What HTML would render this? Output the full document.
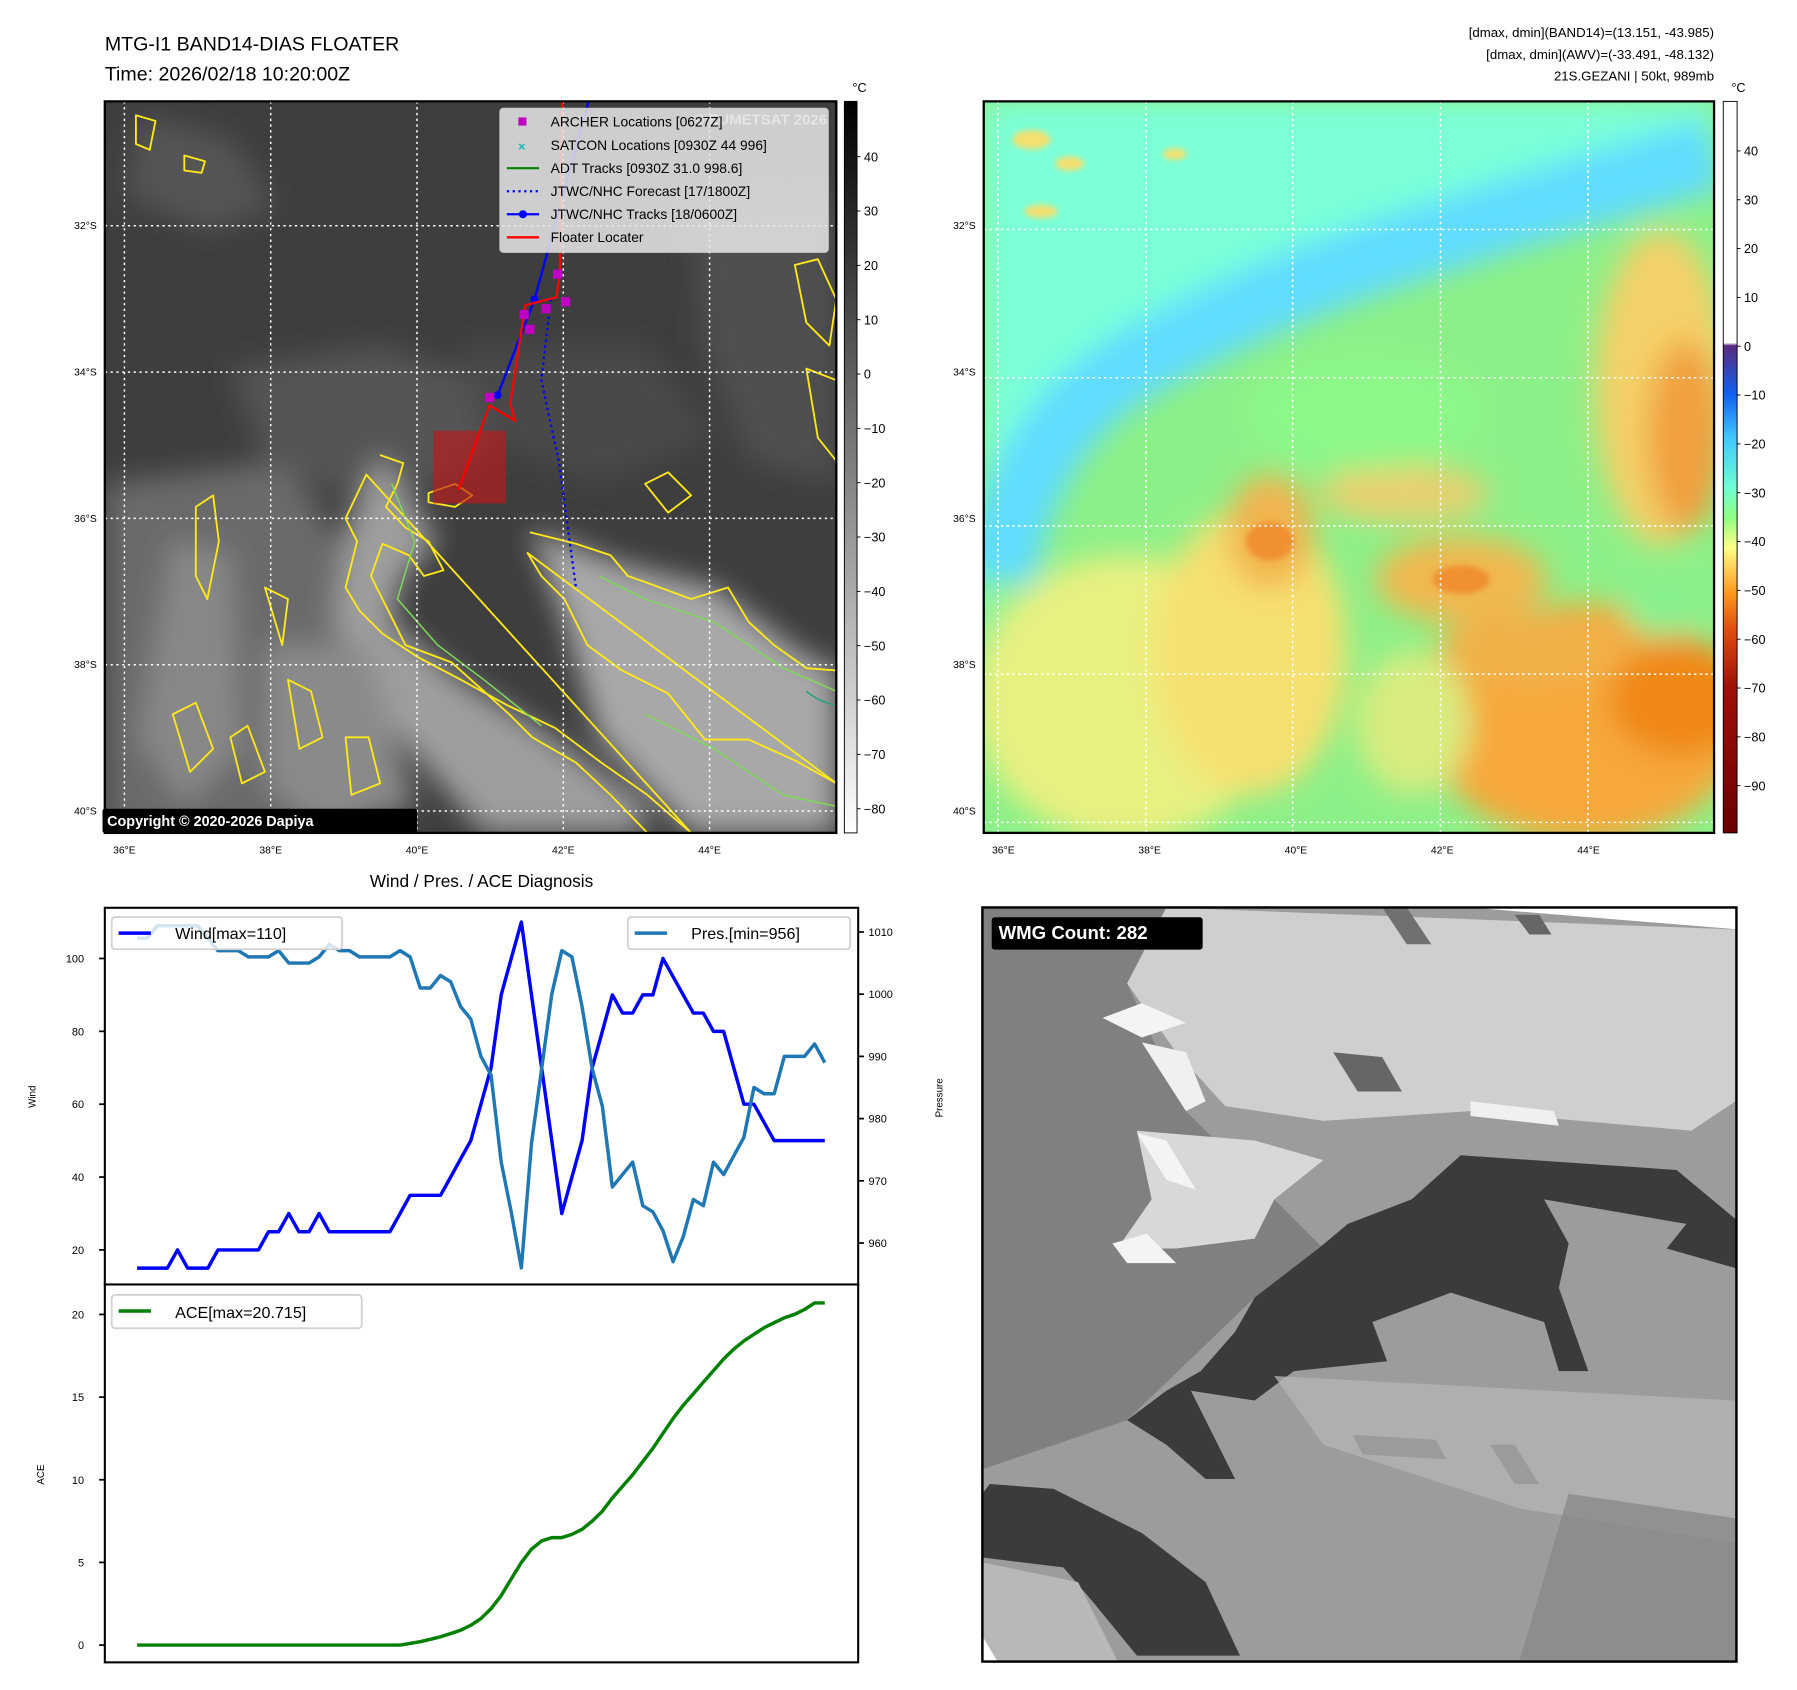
<!DOCTYPE html>
<html><head><meta charset="utf-8"><style>
html,body{margin:0;padding:0;background:#fff;}
svg{display:block;font-family:"Liberation Sans","DejaVu Sans",sans-serif;}
</style></head><body>
<svg id="root" width="1797" height="1690" viewBox="0 0 1560 1467" preserveAspectRatio="none" xmlns="http://www.w3.org/2000/svg">
<defs>
<filter id="b6" x="-50%" y="-50%" width="200%" height="200%"><feGaussianBlur stdDeviation="6"/></filter>
<filter id="b12" x="-50%" y="-50%" width="200%" height="200%"><feGaussianBlur stdDeviation="12"/></filter>
<filter id="b30" x="-50%" y="-50%" width="200%" height="200%"><feGaussianBlur stdDeviation="30"/></filter>
<clipPath id="cl"><rect x="91" y="88" width="635" height="635"/></clipPath>
<clipPath id="cr"><rect x="0" y="0" width="1530" height="1530"/></clipPath>
<linearGradient id="cbl" x1="0" y1="0" x2="0" y2="1"><stop offset="0" stop-color="#000"/><stop offset="1" stop-color="#fff"/></linearGradient>
<linearGradient id="cbr" x1="0" y1="0" x2="0" y2="1">
<stop offset="0" stop-color="#fff"/><stop offset="0.33" stop-color="#fff"/>
<stop offset="0.334" stop-color="#5a2a80"/><stop offset="0.40" stop-color="#1060f0"/>
<stop offset="0.46" stop-color="#40c8ff"/><stop offset="0.53" stop-color="#70ffd0"/>
<stop offset="0.57" stop-color="#90ff80"/><stop offset="0.61" stop-color="#ffff88"/>
<stop offset="0.67" stop-color="#ff9a20"/><stop offset="0.72" stop-color="#e05010"/>
<stop offset="0.80" stop-color="#a01008"/><stop offset="1" stop-color="#6a0000"/></linearGradient>
</defs>

<!-- titles -->
<text x="91" y="44" font-size="17">MTG-I1 BAND14-DIAS FLOATER</text>
<text x="91" y="70" font-size="17">Time: 2026/02/18 10:20:00Z</text>
<g font-size="11.5" text-anchor="end">
<text x="1488" y="32">[dmax, dmin](BAND14)=(13.151, -43.985)</text>
<text x="1488" y="51">[dmax, dmin](AWV)=(-33.491, -48.132)</text>
<text x="1488" y="70">21S.GEZANI | 50kt, 989mb</text>
</g>

<!-- LEFT MAP -->
<g clip-path="url(#cl)">
<rect x="91" y="88" width="635" height="635" fill="#3e3e3e"/>
<g filter="url(#b12)">
<polygon points="91,420 250,400 300,480 300,723 91,723" fill="#6a6a6a"/>
<polygon points="200,320 330,300 420,330 440,380 380,420 300,430 230,400" fill="#555"/>
<polygon points="600,180 726,170 726,420 650,400 610,300" fill="#4f4f4f"/>
<polygon points="330,395 380,470 350,500 340,540 400,590 480,640 560,700 560,723 420,723 330,620 290,540 300,460" fill="#9e9e9e"/>
<polygon points="460,460 540,490 620,510 700,570 726,580 726,723 600,723 520,640 490,540" fill="#a8a8a8"/>
<polygon points="150,470 200,480 210,650 160,700 120,640" fill="#888"/>
<polygon points="230,560 320,560 360,700 280,723 230,680" fill="#8a8a8a"/>
<polygon points="120,100 200,120 240,180 180,200 110,170" fill="#555"/>
<polygon points="400,300 560,300 620,380 520,420 420,380" fill="#4a4a4a"/>
</g>
<g fill="none" stroke="#ffe81a" stroke-width="1.6" stroke-linejoin="round">
<path d="M330,395 L350,402 L345,420 L335,440 L352,458 L372,470 L385,495 L368,500 L355,482 L332,472 L322,500 L342,540 L352,560 L392,575 L420,600 L442,620 L462,640 L500,662 L530,690 L562,723"/>
<path d="M600,723 L562,690 L522,662 L482,632 L440,612 L400,590 L362,570 L332,550 L312,530 L300,510 L310,470 L300,450 L318,412 Z"/>
<path d="M460,462 L500,472 L530,482 L545,500 L562,506 L600,520 L632,510 L650,540 L672,560 L700,580 L726,582 M726,680 L690,660 L650,642 L612,642 L580,602 L540,582 L510,560 L490,520 L470,500 L458,480 Z"/>
<path d="M372,428 L395,420 L410,430 L395,440 L372,436 Z"/>
<path d="M170,440 L185,430 L190,470 L180,520 L170,500 Z"/>
<path d="M118,100 L135,105 L130,130 L118,125 Z"/>
<path d="M160,135 L178,140 L175,150 L160,148 Z"/>
<path d="M690,230 L710,225 L726,260 L720,300 L700,280 Z"/>
<path d="M700,320 L726,330 L726,400 L710,380 Z"/>
<path d="M560,420 L580,410 L600,430 L580,445 Z"/>
<path d="M150,620 L170,610 L185,650 L165,670 Z"/>
<path d="M250,590 L270,600 L280,640 L260,650 Z"/>
<path d="M200,640 L215,630 L230,670 L210,680 Z"/>
<path d="M300,640 L320,640 L330,680 L305,690 Z"/>
<path d="M230,510 L250,520 L245,560 Z"/>
</g>
<g fill="none" stroke="#7ed957" stroke-width="1.3">
<path d="M340,420 L360,470 L345,520 L380,560 L420,590 L470,630"/>
<path d="M520,500 L560,520 L620,540 L680,580 L726,600"/>
<path d="M560,620 L620,650 L680,690 L726,700"/>
<path d="M700,600 Q712,610 726,612" stroke="#20a080"/>
</g>
<rect x="376" y="374" width="63" height="63" fill="#c01818" opacity="0.65"/>
<g stroke="#fff" stroke-width="1.3" stroke-dasharray="2,3">
<line x1="108" y1="88" x2="108" y2="723"/><line x1="235" y1="88" x2="235" y2="723"/><line x1="362" y1="88" x2="362" y2="723"/><line x1="489" y1="88" x2="489" y2="723"/><line x1="616" y1="88" x2="616" y2="723"/>
<line x1="91" y1="196" x2="726" y2="196"/><line x1="91" y1="323" x2="726" y2="323"/><line x1="91" y1="450" x2="726" y2="450"/><line x1="91" y1="577" x2="726" y2="577"/><line x1="91" y1="704" x2="726" y2="704"/>
</g>
<polyline points="478,260 470,330 485,400 500,510" fill="none" stroke="#0000ff" stroke-width="2" stroke-dasharray="2,3"/>
<polyline points="511,88 464,260 432,343" fill="none" stroke="#0000ff" stroke-width="2"/>
<circle cx="464" cy="260" r="3.5" fill="#0000ff"/><circle cx="432" cy="343" r="3.5" fill="#0000ff"/>
<polyline points="488,88 486,238 483,258 456,265 443,350 447,365 425,352 398,425" fill="none" stroke="#ff0000" stroke-width="2"/>
<g fill="#c000c0">
<rect x="421" y="341" width="8" height="8"/><rect x="451" y="269" width="8" height="8"/><rect x="456" y="282" width="8" height="8"/><rect x="470" y="264" width="8" height="8"/><rect x="487" y="258" width="8" height="8"/><rect x="480" y="234" width="8" height="8"/>
</g>
<text x="718" y="108" font-size="13" font-weight="bold" fill="#ddd" text-anchor="end">© EUMETSAT 2026</text>
</g>
<rect x="91" y="88" width="635" height="635" fill="none" stroke="#000" stroke-width="2"/>
<g>
<rect x="434" y="94" width="285" height="125" rx="3" fill="#e6e6e6" fill-opacity="0.86" stroke="#ccc"/>
<g font-size="12">
<rect x="450" y="102" width="7" height="7" fill="#c000c0"/><text x="478" y="110">ARCHER Locations [0627Z]</text>
<text x="453" y="131" fill="#10b8b8" font-weight="bold" text-anchor="middle" font-size="11">×</text><text x="478" y="130">SATCON Locations [0930Z 44 996]</text>
<line x1="440" y1="146" x2="468" y2="146" stroke="#008000" stroke-width="1.8"/><text x="478" y="150">ADT Tracks [0930Z 31.0 998.6]</text>
<line x1="440" y1="166" x2="468" y2="166" stroke="#0000ff" stroke-width="2" stroke-dasharray="2,3"/><text x="478" y="170">JTWC/NHC Forecast [17/1800Z]</text>
<line x1="440" y1="186" x2="468" y2="186" stroke="#0000ff" stroke-width="2"/><circle cx="454" cy="186" r="3.5" fill="#0000ff"/><text x="478" y="190">JTWC/NHC Tracks [18/0600Z]</text>
<line x1="440" y1="206" x2="468" y2="206" stroke="#ff0000" stroke-width="2"/><text x="478" y="210">Floater Locater</text>
</g></g>
<rect x="89" y="702" width="273" height="21" rx="2" fill="#000"/>
<text x="93" y="717" font-size="12.5" font-weight="bold" fill="#fff">Copyright © 2020-2026 Dapiya</text>
<g font-size="9" text-anchor="end">
<text x="84" y="199">32°S</text><text x="84" y="326">34°S</text><text x="84" y="453">36°S</text><text x="84" y="580">38°S</text><text x="84" y="707">40°S</text></g>
<g font-size="9" text-anchor="middle">
<text x="108" y="741">36°E</text><text x="235" y="741">38°E</text><text x="362" y="741">40°E</text><text x="489" y="741">42°E</text><text x="616" y="741">44°E</text></g>
<rect x="733" y="88" width="11" height="635" fill="url(#cbl)" stroke="#000" stroke-width="0.8"/>
<text x="740" y="80" font-size="11">°C</text>
<g id="cbl-ticks" font-size="11"></g>

<!-- RIGHT MAP -->
<svg x="854" y="88" width="634" height="635" viewBox="0 0 1530 1530" preserveAspectRatio="none">
<g clip-path="url(#cr)">
<rect width="1530" height="1530" fill="#8cf088"/>
<g filter="url(#b30)">
<path d="M0,0 L1530,0 L1530,150 L1250,220 L900,320 L600,450 L300,580 L100,720 L30,950 L0,1150 Z" fill="#7cffd8"/>
<path d="M1530,110 Q1250,190 900,300 T300,560 Q80,700 30,1000" fill="none" stroke="#60dcff" stroke-width="150"/>
<ellipse cx="300" cy="1250" rx="320" ry="300" fill="#e8f080"/>
<ellipse cx="560" cy="1150" rx="200" ry="300" fill="#f6e070"/>
<ellipse cx="1260" cy="1300" rx="330" ry="250" fill="#f6a83a"/>
<ellipse cx="1460" cy="1250" rx="150" ry="120" fill="#f08818"/>
<ellipse cx="1420" cy="600" rx="140" ry="330" fill="#f4d068"/>
<ellipse cx="1470" cy="700" rx="80" ry="200" fill="#f0a040"/>
<ellipse cx="1000" cy="1000" rx="180" ry="90" fill="#f0b850"/>
<ellipse cx="600" cy="900" rx="90" ry="120" fill="#f2b450"/>
<ellipse cx="880" cy="820" rx="180" ry="60" fill="#e8d070"/>
<ellipse cx="1150" cy="1150" rx="200" ry="80" fill="#f2b048"/>
<ellipse cx="900" cy="1300" rx="120" ry="150" fill="#d8ec80"/>
<ellipse cx="800" cy="650" rx="250" ry="120" fill="#8cf888"/>
<ellipse cx="1420" cy="1060" rx="80" ry="60" fill="#88f090"/>
</g>
<g filter="url(#b6)" fill="#f4e070">
<ellipse cx="100" cy="80" rx="40" ry="20"/><ellipse cx="180" cy="130" rx="30" ry="15"/><ellipse cx="120" cy="230" rx="35" ry="14"/><ellipse cx="400" cy="110" rx="25" ry="12"/>
<ellipse cx="600" cy="920" rx="50" ry="40" fill="#f09030"/><ellipse cx="1000" cy="1000" rx="60" ry="30" fill="#f09030"/>
</g>
<g stroke="#fff" stroke-width="3.3" stroke-dasharray="5,7">
<line x1="30" y1="0" x2="30" y2="1530"/><line x1="340" y1="0" x2="340" y2="1530"/><line x1="647" y1="0" x2="647" y2="1530"/><line x1="957" y1="0" x2="957" y2="1530"/><line x1="1266" y1="0" x2="1266" y2="1530"/>
<line x1="0" y1="268" x2="1530" y2="268"/><line x1="0" y1="578" x2="1530" y2="578"/><line x1="0" y1="888" x2="1530" y2="888"/><line x1="0" y1="1198" x2="1530" y2="1198"/><line x1="0" y1="1508" x2="1530" y2="1508"/>
</g></g>
</svg>
<rect x="854" y="88" width="634" height="635" fill="none" stroke="#000" stroke-width="2"/>
<g font-size="9" text-anchor="end">
<text x="847" y="199">32°S</text><text x="847" y="326">34°S</text><text x="847" y="453">36°S</text><text x="847" y="580">38°S</text><text x="847" y="707">40°S</text></g>
<g font-size="9" text-anchor="middle">
<text x="871" y="741">36°E</text><text x="998" y="741">38°E</text><text x="1125" y="741">40°E</text><text x="1252" y="741">42°E</text><text x="1379" y="741">44°E</text></g>
<rect x="1496" y="88" width="12" height="635" fill="url(#cbr)" stroke="#000" stroke-width="0.8"/>
<text x="1503" y="80" font-size="11">°C</text>
<g id="cbr-ticks" font-size="11"></g>

<!-- WIND/PRES/ACE -->
<text x="418" y="770" font-size="15" text-anchor="middle">Wind / Pres. / ACE Diagnosis</text>
<rect x="91" y="788" width="654" height="327" fill="#fff" stroke="#000" stroke-width="1.8"/>
<rect x="91" y="1115" width="654" height="328" fill="#fff" stroke="#000" stroke-width="1.8"/>
<g id="chart"></g>
<text transform="translate(31,952) rotate(-90)" font-size="8.5" text-anchor="middle">Wind</text>
<text transform="translate(818,953) rotate(-90)" font-size="8.5" text-anchor="middle">Pressure</text>
<text transform="translate(38,1280) rotate(-90)" font-size="8.5" text-anchor="middle">ACE</text>
<g>
<rect x="97" y="796" width="200" height="28" rx="3" fill="#fff" fill-opacity="0.8" stroke="#d0d0d0" stroke-width="1.5"/>
<line x1="103" y1="810" x2="131" y2="810" stroke="#0000ff" stroke-width="3"/>
<text x="152" y="815" font-size="14">Wind[max=110]</text></g>
<g>
<rect x="545" y="796" width="193" height="28" rx="3" fill="#fff" fill-opacity="0.8" stroke="#d0d0d0" stroke-width="1.5"/>
<line x1="551" y1="810" x2="579" y2="810" stroke="#1f77b4" stroke-width="3"/>
<text x="600" y="815" font-size="14">Pres.[min=956]</text></g>
<g>
<rect x="97" y="1124" width="217" height="29" rx="3" fill="#fff" fill-opacity="0.8" stroke="#d0d0d0" stroke-width="1.5"/>
<line x1="103" y1="1138" x2="131" y2="1138" stroke="#008000" stroke-width="3"/>
<text x="152" y="1144" font-size="14">ACE[max=20.715]</text></g>

<!-- WMG panel -->
<svg x="850.7" y="785.6" width="659.7" height="659.7" viewBox="0 0 1549 1549" preserveAspectRatio="none">
<rect x="5" y="5" width="1537" height="1537" fill="#9c9c9c"/>
<polygon points="5,5 380,5 300,160 420,420 560,560 700,700 560,800 300,1050 5,1150" fill="#808080"/>
<polygon points="380,5 1540,50 1540,400 1450,460 1000,420 700,440 500,410 400,300 300,160" fill="#cfcfcf"/>
<polygon points="320,460 560,480 700,520 600,600 560,680 400,700 280,700 350,600" fill="#d8d8d8"/>
<polygon points="250,230 330,200 420,240 330,270" fill="#f4f4f4"/>
<polygon points="330,280 420,300 460,400 420,420" fill="#f0f0f0"/>
<polygon points="270,690 340,670 400,730 300,730" fill="#f4f4f4"/>
<polygon points="320,465 380,480 440,580 380,560" fill="#f4f4f4"/>
<polygon points="1000,400 1170,420 1180,450 1000,430" fill="#f0f0f0"/>
<polygon points="720,300 820,310 860,380 770,380" fill="#666"/>
<polygon points="1090,20 1140,20 1165,60 1120,60" fill="#666"/>
<polygon points="820,5 870,5 920,80 870,80" fill="#707070"/>
<polygon points="1000,5 1549,5 1549,50" fill="#fff"/>
<polygon points="980,510 1420,540 1540,640 1540,740 1400,700 1440,650 1150,600 1200,690 1180,780 1240,950 1180,950 1150,850 960,790 800,850 830,930 640,950 560,1010 430,990 480,1090 520,1170 460,1170 380,1100 300,1050 380,990 450,950 520,870 560,800 690,700 750,650 880,600" fill="#3b3b3b"/>
<polygon points="20,1180 150,1190 330,1280 460,1380 530,1530 320,1530 230,1420 170,1350 5,1330 5,1200" fill="#3b3b3b"/>
<polygon points="760,1080 930,1090 950,1130 780,1120" fill="#3b3b3b"/>
<polygon points="1040,1100 1090,1100 1140,1180 1090,1180" fill="#3b3b3b"/>
<polygon points="600,960 1540,1010 1540,1300 1100,1230 700,1100" fill="#b4b4b4" opacity="0.8"/>
<polygon points="1200,1200 1540,1250 1540,1540 1100,1540" fill="#8a8a8a" opacity="0.8"/>
<polygon points="5,1340 200,1380 280,1540 5,1540" fill="#b8b8b8"/>
<polygon points="5,1490 40,1549 5,1549" fill="#fff"/>
<rect x="5" y="5" width="1537" height="1537" fill="none" stroke="#000" stroke-width="5"/>
<rect x="24" y="25" width="430" height="66" rx="6" fill="#000"/>
<text x="38" y="69" font-size="38" font-weight="bold" fill="#fff">WMG Count: 282</text>
</svg>
</svg>

<script>
// ---- chart data ----
const windValues = [15,15,15,15,20,15,15,15,20,20,20,20,20,25,25,30,25,25,30,25,25,25,25,25,25,25,30,35,35,35,35,40,45,50,60,70,90,100,110,90,70,50,30,40,50,70,80,90,85,85,90,90,100,95,90,85,85,80,80,70,60,60,55,50,50,50,50,50,50];
const presValues = [1009,1009,1011,1011,1011,1011,1011,1009,1007,1007,1007,1006,1006,1006,1007,1005,1005,1005,1006,1008,1007,1007,1006,1006,1006,1006,1007,1006,1001,1001,1003,1002,998,996,990,987,973,965,956,976,988,1000,1007,1006,998,988,982,969,971,973,966,965,962,957,961,967,966,973,971,974,977,985,984,984,990,990,990,992,989];
const aceValues = [0,0,0,0,0,0,0,0,0,0,0,0,0,0,0,0,0,0,0,0,0,0,0,0,0,0,0,0.1,0.2,0.35,0.5,0.7,0.9,1.2,1.6,2.2,3,4,5,5.8,6.3,6.5,6.5,6.7,7,7.5,8.1,8.9,9.6,10.3,11.1,11.9,12.8,13.7,14.5,15.2,15.9,16.6,17.3,17.9,18.4,18.8,19.2,19.5,19.8,20.0,20.3,20.7,20.7];
const windTicks = [20,40,60,80,100];
const presTicks = [960,970,980,990,1000,1010];
const aceTicks = [0,5,10,15,20];
const leftCbTicks = [40,30,20,10,0,-10,-20,-30,-40,-50,-60,-70,-80];
const rightCbTicks = [40,30,20,10,0,-10,-20,-30,-40,-50,-60,-70,-80,-90];

const NS = "http://www.w3.org/2000/svg";
const N = windValues.length;
const xOf = i => 119 + i * (716 - 119) / (N - 1);
const yWind = v => 832 + (100 - v) * (1085 - 832) / 80;
const yPres = v => 809 + (1010 - v) * (1079 - 809) / 50;
const yAce = v => 1428 - v * (1428 - 1141) / 20;
const yCbL = v => 136 + (40 - v) * (702 - 136) / 120;
const yCbR = v => 131 + (40 - v) * (682 - 131) / 130;

function mk(tag, attrs, parent) {
  const e = document.createElementNS(NS, tag);
  for (const k in attrs) e.setAttribute(k, attrs[k]);
  parent.appendChild(e);
  return e;
}
const chart = document.getElementById('chart');
function line(vals, yf, color, name) {
  const d = vals.map((v, i) => (i ? 'L' : 'M') + xOf(i).toFixed(1) + ',' + yf(v).toFixed(1)).join(' ');
  const p = mk('path', {d: d, fill: 'none', stroke: color, 'stroke-width': 3, 'stroke-linejoin': 'round'}, chart);
  
  
}
line(aceValues, yAce, '#008000', 'ace-line');
line(windValues, yWind, '#0000ff', 'wind-line');
line(presValues, yPres, '#1f77b4', 'pressure-line');

function ticks(arr, yf, x, side, name) {
  arr.forEach(v => {
    const y = yf(v);
    const t = mk('line', {x1: x, x2: side < 0 ? x - 5 : x + 5, y1: y, y2: y, stroke: '#000', 'stroke-width': 1.5}, chart);
    
    
    const tx = mk('text', {x: side < 0 ? x - 18 : x + 9, y: y + 3.5, 'font-size': 9.5, 'text-anchor': side < 0 ? 'end' : 'start'}, chart);
    tx.textContent = v;
    
    
  });
}
ticks(windTicks, yWind, 91, -1, 'wind-axis');
ticks(presTicks, yPres, 745, 1, 'pressure-axis');
ticks(aceTicks, yAce, 91, -1, 'ace-axis');

function cbTicks(arr, yf, x, gid, name) {
  const g = document.getElementById(gid);
  arr.forEach(v => {
    const y = yf(v);
    mk('line', {x1: x, x2: x + 3, y1: y, y2: y, stroke: '#000', 'stroke-width': 0.8}, g);
    const t = mk('text', {x: x + 6, y: y + 4}, g);
    t.textContent = v < 0 ? '\u2212' + (-v) : v;
    
    
  });
}
cbTicks(leftCbTicks, yCbL, 744, 'cbl-ticks', 'left-colorbar-tick');
cbTicks(rightCbTicks, yCbR, 1508, 'cbr-ticks', 'right-colorbar-tick');
</script>
</body></html>
